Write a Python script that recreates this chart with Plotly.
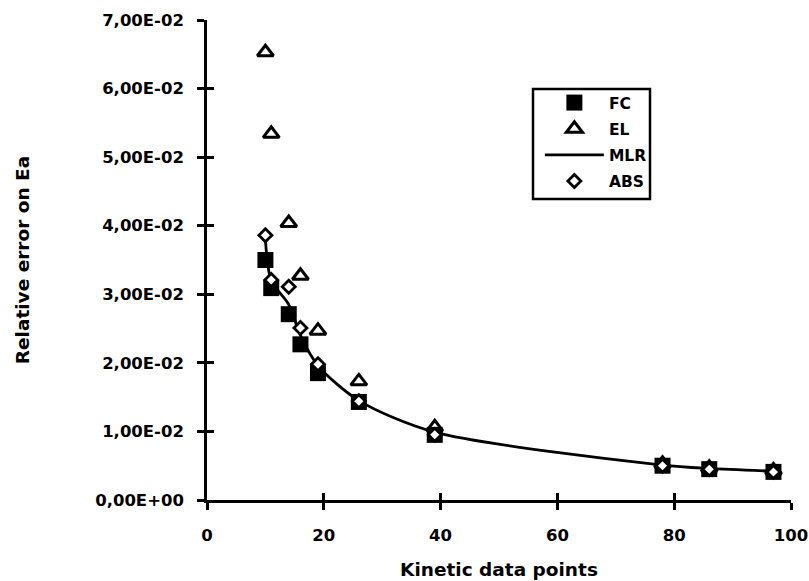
import plotly.graph_objects as go

# ---- data ----
kinetic_points = [10, 11, 14, 16, 19, 26, 39, 78, 86, 97]
fc_values  = [0.0350, 0.0309, 0.0271, 0.0227, 0.0185, 0.0143, 0.0095, 0.0050, 0.0045, 0.0041]
el_values  = [0.0653, 0.0534, 0.0404, 0.0327, 0.0247, 0.0173, 0.0106, 0.0053, 0.0047, 0.0043]
mlr_values = [0.0380, 0.0320, 0.0285, 0.0240, 0.0196, 0.0145, 0.0099, 0.0051, 0.0046, 0.0042]
abs_values = [0.0386, 0.0321, 0.0311, 0.0251, 0.0198, 0.0144, 0.0095, 0.0050, 0.0045, 0.0041]

x_ticks = [0, 20, 40, 60, 80, 100]
y_ticks = [0.0, 0.01, 0.02, 0.03, 0.04, 0.05, 0.06, 0.07]
y_tick_labels = ["0,00E+00", "1,00E-02", "2,00E-02", "3,00E-02",
                 "4,00E-02", "5,00E-02", "6,00E-02", "7,00E-02"]

FONT = "DejaVu Sans"

fig = go.Figure()

fig.add_trace(go.Scatter(
    x=kinetic_points, y=el_values, mode="markers", name="EL",
    legendgroup="EL", legendrank=2,
    marker=dict(symbol="triangle-up", size=14, color="white",
                line=dict(color="black", width=3)),
))
fig.add_trace(go.Scatter(
    x=kinetic_points, y=fc_values, mode="markers", name="FC",
    legendgroup="FC", legendrank=1,
    marker=dict(symbol="square", size=16, color="black",
                line=dict(color="black", width=0)),
))
fig.add_trace(go.Scatter(
    x=kinetic_points, y=mlr_values, mode="lines", name="MLR",
    legendgroup="MLR", legendrank=3,
    line=dict(color="black", width=2.8, shape="spline", smoothing=0.8),
))
fig.add_trace(go.Scatter(
    x=kinetic_points, y=abs_values, mode="markers", name="ABS",
    legendgroup="ABS", legendrank=4,
    marker=dict(symbol="diamond", size=10, color="white",
                line=dict(color="black", width=2.8)),
))
# invisible helper trace for the overlay axes (inside half of the crossing ticks)
fig.add_trace(go.Scatter(x=[None], y=[None], xaxis="x2", yaxis="y2",
                         showlegend=False, hoverinfo="skip"))

axis_font = dict(family=FONT, size=16.5, color="black", weight="bold")
title_font = dict(family=FONT, size=18.5, color="black", weight="bold")

fig.update_layout(
    width=809, height=581,
    margin=dict(l=207, r=18, t=20, b=81),
    paper_bgcolor="white", plot_bgcolor="white",
    font=dict(family=FONT, color="black", weight="bold"),
    xaxis=dict(
        range=[0, 100], tickvals=x_ticks, ticktext=[str(v) for v in x_ticks],
        showgrid=False, zeroline=False, showline=True, linecolor="black",
        linewidth=2.5, ticks="outside", ticklen=7, tickwidth=2.5,
        tickcolor="black", tickfont=axis_font, ticklabelstandoff=11,
        automargin=False,
        title=dict(text="Kinetic data points", standoff=20, font=title_font),
    ),
    yaxis=dict(
        range=[0, 0.07], tickvals=y_ticks, ticktext=y_tick_labels,
        showgrid=False, zeroline=False, showline=True, linecolor="black",
        linewidth=2.5, ticks="outside", ticklen=7, tickwidth=2.5,
        tickcolor="black", tickfont=axis_font, ticklabelstandoff=10,
        automargin=False,
        title=dict(text="Relative error on Ea", standoff=61, font=title_font),
    ),
    xaxis2=dict(overlaying="x", anchor="y2", side="bottom", range=[0, 100],
                tickvals=x_ticks, showticklabels=False, showgrid=False,
                zeroline=False, showline=False, ticks="inside", ticklen=7,
                tickwidth=2.5, tickcolor="black", automargin=False),
    yaxis2=dict(overlaying="y", anchor="x2", side="left", range=[0, 0.07],
                tickvals=y_ticks, showticklabels=False, showgrid=False,
                zeroline=False, showline=False, ticks="inside", ticklen=7,
                tickwidth=2.5, tickcolor="black", automargin=False),
    legend=dict(
        x=0.570, y=0.8625, xanchor="left", yanchor="top",
        bgcolor="rgba(0,0,0,0)", borderwidth=0,
        font=dict(family=FONT, size=15.5, color="black", weight="bold"),
        itemwidth=59, tracegroupgap=3,
    ),
    shapes=[dict(type="rect", xref="paper", yref="paper",
                 x0=(533 - 207) / 584, x1=(650 - 207) / 584,
                 y0=(500 - 199) / 480, y1=(500 - 89) / 480,
                 line=dict(color="black", width=2.5), fillcolor="white",
                 layer="below")],
    showlegend=True,
)

fig.write_html(
    "out.html",
    config={"displayModeBar": False},
    post_script="document.body.style.margin='0';document.body.style.overflow='hidden';",
)
